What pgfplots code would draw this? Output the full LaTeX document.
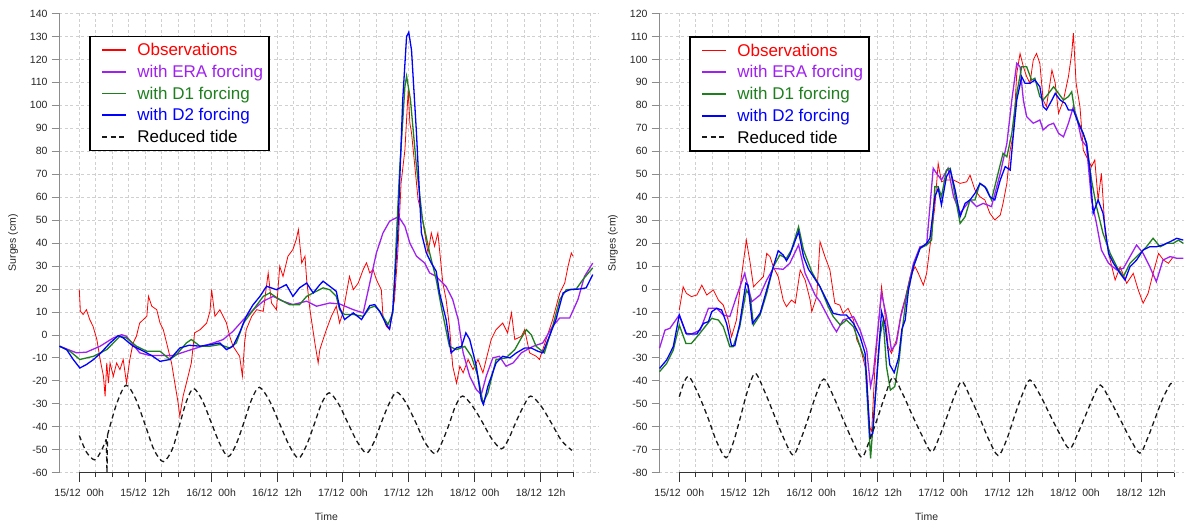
\documentclass[border=0pt]{standalone}
\usepackage{pgfplots}
\pgfplotsset{compat=1.18}
\usepackage{fontspec}
\setmainfont{Liberation Sans}
\definecolor{obsred}{HTML}{FF0000}
\definecolor{erapurple}{HTML}{A020F0}
\definecolor{dgreen}{HTML}{1F7F1F}
\definecolor{dblue}{HTML}{0000FF}
\definecolor{gridgray}{HTML}{D0D0D0}
\newcommand{\tfont}{\fontsize{10.5}{12}\selectfont}
\pgfplotsset{
  surge/.style={
    scale only axis, anchor=south west, height=459.2pt, clip=false,
    xmin=-3.64,
    axis y line*=left, axis x line*=bottom,
    x axis line style={draw=none},
    y axis line style={-, draw=black!45, line width=0.8pt},
    tick align=outside,
    xtick={0,12,...,84},
    xticklabels={15/12~~00h,15/12~~12h,16/12~~00h,16/12~~12h,17/12~~00h,17/12~~12h,18/12~~00h,18/12~~12h},
    minor xtick={3,6,...,90},
    ytick distance=10,
    xticklabel shift=8pt,
    yticklabel shift=4pt,
    xtick style={black!80, line width=0.8pt, /pgfplots/major tick length=9.5pt, /pgfplots/minor tick length=4.5pt},
    ytick style={black!45, line width=0.8pt, /pgfplots/major tick length=7.7pt},
    xmajorgrids, xminorgrids, ymajorgrids,
    major grid style={gridgray, line width=0.6pt, dash pattern=on 3pt off 2.5pt},
    minor grid style={gridgray, line width=0.6pt, dash pattern=on 3pt off 2.5pt},
    ticklabel style={font=\tfont, text=black!85},
    /pgf/number format/assume math mode=true,
    label style={font=\tfont, text=black!85},
    legend image code/.code={\path (0pt,0pt); \draw[#1, line width=1.8pt] (7.7pt,0pt) -- (31.3pt,0pt);},
    legend cell align=left,
    legend style={draw=black, line width=1.6pt, fill=white,
      inner xsep=4pt, inner ysep=7pt, row sep=8.2pt,
      font=\fontsize{17}{20}\selectfont,
      nodes={text height=12.5pt, text depth=1pt, inner xsep=2pt, inner ysep=0pt},
      /tikz/every odd column/.append style={column sep=8.7pt},
      anchor=north west},
  },
  obs/.style={obsred, line width=0.8pt},
  era/.style={erapurple, line width=1.3pt},
  dun/.style={dgreen, line width=1.3pt},
  ddeux/.style={dblue, line width=1.3pt},
  tide/.style={black!90, line width=1.3pt, dash pattern=on 5pt off 3.5pt},
}
\begin{document}
\begin{tikzpicture}
\useasboundingbox (0pt,0pt) rectangle (1184pt,526pt);
% ---------------- LEFT PANEL ----------------
\begin{axis}[surge, at={(59.3pt,53.3pt)}, width=539.7pt, xmax=94.64, ymin=-60, ymax=140,
  xlabel={Time}, ylabel={Surges (cm)},
  xlabel style={at={(axis cs:45,-79.1)}, anchor=center},
  ylabel style={at={(axis cs:-12.06,40.2)}, anchor=center, rotate=0},
  legend style={at={(axis cs:1.765,130.4)}}]
\addplot[gridgray, line width=0.6pt, dash pattern=on 3pt off 2.5pt, forget plot] coordinates {(93,-60) (93,140)};
\addplot[obs] coordinates {(0.0,19.7) (0.2,10.3) (0.7,8.9) (1.3,11) (1.9,6.7) (2.5,3.8) (3.2,-2) (3.8,-10.7) (4.4,-18) (4.7,-26.7) (5.0,-12.2) (5.3,-21) (5.6,-12.2) (6.2,-18) (6.8,-12.2) (7.4,-15.1) (8.0,-10.7) (8.6,-21) (9.2,-10.7) (9.8,-3.5) (10.4,-0.6) (11.0,5.2) (12.3,8.1) (12.6,16.8) (13.2,12.5) (14.1,11) (14.7,5.2) (15.3,2.3) (15.9,-3.5) (16.8,-12.2) (17.4,-21) (18.0,-29.6) (18.3,-35.4) (18.9,-26.7) (19.5,-21) (20.4,-12.2) (21.0,0.9) (22.0,2.3) (23.2,5.2) (23.8,10.3) (24.1,19.7) (24.7,8.1) (25.6,11) (26.2,8.1) (26.8,5.2) (27.4,-0.6) (28.0,-4.9) (29.2,-9.3) (29.7,-18) (30.1,-3.5) (30.4,2.3) (31.4,8.1) (32.3,11) (33.5,10.3) (34.4,27) (35.0,13.9) (35.9,11) (36.5,29.9) (37.1,25.5) (38.0,34.3) (38.9,37.2) (39.5,41.5) (39.9,45.9) (40.5,31.3) (41.1,34.3) (41.4,24.1) (42.0,11) (42.9,-3.5) (43.5,-12.2) (43.8,-6.4) (44.4,-2) (45.0,2.3) (45.9,8.1) (46.8,12.5) (47.4,5.2) (48.0,9.6) (49.2,25.5) (49.9,19.7) (50.8,22.6) (51.7,28.5) (52.3,31.4) (52.9,27) (53.5,28.5) (54.1,24.1) (55.0,19.7) (55.3,8.1) (55.9,3.8) (56.5,2.3) (57.4,15.4) (58.0,35.7) (58.6,66.2) (59.3,80.7) (59.9,106.9) (60.2,92.3) (60.5,88) (61.1,73.5) (61.7,58.9) (62.3,53.1) (62.9,44.4) (63.5,35.7) (64.1,44.4) (64.7,38.6) (65.3,44.4) (65.9,29.9) (66.2,22.6) (66.8,15.4) (67.4,3.8) (68.0,-13.6) (68.7,-21) (69.3,-13.6) (69.9,-16.5) (70.8,-10.7) (71.7,-15.1) (72.6,-10.7) (73.5,-16.5) (74.1,-10.7) (75.0,-2) (75.9,2.3) (77.1,5.2) (78.0,0.9) (78.7,9.6) (79.3,-2) (80.5,-0.6) (81.1,2.3) (82.0,-7.8) (83.2,-9.3) (83.8,-10.7) (85.0,-2) (86.2,6.7) (87.5,18.3) (88.4,22.6) (89.0,29.9) (89.6,35.7) (89.9,34.3)};
\addlegendentry{\textcolor{obsred}{Observations}}
\addplot[era] coordinates {(-3.6,-4.9) (-0.5,-7.8) (1.3,-7.5) (3.8,-4.9) (6.2,-1.3) (7.7,0.1) (8.6,-0.6) (11.0,-7.8) (12.9,-9) (14.7,-9) (17.1,-9) (19.5,-7.1) (22.0,-5.2) (24.4,-3.5) (26.2,-2) (28.0,1.6) (29.9,6.7) (31.7,11) (33.5,14.7) (35.3,16.8) (37.1,14.7) (38.9,13.2) (41.4,14.7) (43.2,12.5) (45.6,13.9) (47.4,13.5) (49.9,11) (51.7,9.6) (52.9,22.6) (54.1,35.7) (55.3,44.4) (56.5,49.5) (57.7,51) (58.3,51) (59.3,47.3) (60.2,40) (61.4,34.3) (62.9,31.3) (63.8,27) (65.0,25.5) (66.8,21.1) (68.0,15.4) (69.0,6.7) (69.9,-7.8) (71.1,-18) (72.3,-23.8) (73.2,-26) (74.1,-18) (75.3,-10) (76.5,-9.3) (77.7,-13.6) (79.0,-12.2) (80.5,-7.8) (82.6,-5) (84.4,-3.5) (86.2,3.8) (87.5,7.4) (89.3,7.4) (90.8,15.4) (92.0,25.5) (93.5,31.3)};
\addlegendentry{\textcolor{erapurple}{with ERA forcing}}
\addplot[dun] coordinates {(-3.6,-4.9) (-1.7,-7.1) (0.1,-10.7) (2.6,-9.3) (5.0,-6.4) (7.4,-0.6) (8.6,-1.3) (10.4,-4.9) (12.3,-7.1) (14.7,-7.1) (16.5,-10.7) (17.7,-8.6) (19.5,-3.5) (20.4,-2) (22.0,-4.9) (23.8,-4.9) (25.6,-4.2) (27.4,-5.7) (28.6,-3.5) (29.9,5.2) (31.7,11) (33.5,16.8) (34.7,18.3) (36.5,15.4) (38.3,13.2) (40.1,13.2) (41.4,16.8) (42.6,18.3) (44.4,20.5) (45.6,19.7) (46.8,16.8) (47.4,11) (48.3,8.9) (49.9,8.9) (51.7,8.1) (52.9,11.8) (53.8,12.5) (54.7,10.3) (56.2,4.5) (57.1,9.6) (58.3,70.5) (59.3,108.3) (59.6,112.7) (60.3,102.5) (61.4,73.4) (62.5,50.2) (63.8,35.7) (65.0,24.1) (65.9,12.5) (67.4,-5) (68.7,-6.4) (70.2,-5) (71.4,-9.3) (72.6,-18) (73.5,-29.6) (74.4,-25.3) (75.9,-10.7) (77.7,-10) (79.3,-6.4) (80.5,-1.3) (81.4,2.3) (82.3,0.1) (83.2,-5) (84.7,-7.8) (86.2,3.8) (87.5,15.4) (88.7,19.7) (90.5,20) (91.7,24.1) (93.5,29.2)};
\addlegendentry{\textcolor{dgreen}{with D1 forcing}}
\addplot[ddeux] coordinates {(-3.6,-4.9) (-2.3,-6.4) (-1.1,-10.7) (0.1,-14.4) (1.3,-12.9) (2.6,-10.7) (3.8,-8.1) (5.6,-3.5) (7.1,-0.3) (8.0,-1.3) (9.8,-4.9) (11.7,-7.1) (13.2,-9) (14.7,-11.5) (16.5,-10.7) (18.3,-5.7) (20.0,-4.5) (22.0,-4.9) (24.0,-4.2) (25.6,-3.5) (26.8,-6.4) (28.0,-4.9) (29.2,1) (30.4,8.1) (31.6,13) (32.9,16.8) (34.1,21.2) (35.9,19.7) (37.7,21.9) (38.9,16.8) (40.1,20.5) (41.4,22.6) (42.6,18.3) (43.8,21.9) (44.4,23.4) (45.6,21.2) (46.8,19) (47.4,12) (48.3,6.7) (49.9,9.6) (51.4,6.7) (52.9,12.8) (53.8,13.2) (54.7,10.3) (55.9,4.5) (56.5,2.6) (57.1,11) (58.0,44.4) (58.9,102.5) (59.6,130) (60.0,131.8) (60.5,124) (61.4,88) (62.3,44.4) (63.2,35.7) (64.1,31.3) (65.0,27.7) (65.6,18.3) (66.8,6.7) (67.7,-7.8) (68.7,-5.6) (69.6,-5) (70.4,0.9) (71.1,-2) (72.3,-13.6) (73.2,-28.2) (73.6,-30.3) (74.4,-22.4) (75.9,-12.2) (77.1,-9.3) (78.4,-10) (79.6,-7.8) (81.1,-5.7) (82.3,-5.7) (83.5,-7.1) (84.4,-7.8) (85.6,-0.6) (86.8,6.7) (88.1,18.3) (89.3,19.7) (91.1,20) (92.3,20.5) (93.5,26.3)};
\addlegendentry{\textcolor{dblue}{with D2 forcing}}
\addplot[tide, smooth] coordinates {(5.15,-43.5) (6.8,-30) (8.5,-21.9) (10.2,-27.5) (11.9,-38.5) (13.6,-50) (15.3,-55.2) (16.9,-50) (18.1,-40.5) (19.5,-29) (20.8,-23.3) (22.4,-28.5) (24.0,-38) (25.6,-47.5) (27.1,-53) (28.5,-48) (30.0,-38) (31.4,-28) (32.8,-22.8) (34.6,-28.5) (36.4,-38.2) (38.2,-48) (39.9,-53.7) (41.3,-48.5) (42.7,-39.5) (44.1,-30) (45.5,-25.2) (47.2,-30) (48.9,-38.3) (50.6,-46.5) (52.3,-51.5) (53.7,-46.5) (55.0,-38.2) (56.4,-30) (57.8,-24.9) (59.5,-29.6) (61.3,-38.3) (63.0,-47) (64.8,-51.8) (66.0,-47) (67.3,-39.2) (68.5,-31) (69.8,-26.6) (71.6,-31) (73.4,-38) (75.1,-45.2) (76.9,-49.6) (78.2,-45.2) (79.5,-38) (80.9,-31) (82.2,-26.6) (84.1,-31) (86.0,-38.5) (87.8,-46) (89.7,-50.3)};
\addlegendentry{Reduced tide}
\addplot[tide, smooth, forget plot] coordinates {(0,-43.8) (1.3,-51) (2.8,-54.4) (4.0,-50.5) (4.9,-45.5)};
\addplot[tide, forget plot] coordinates {(4.9,-45.5) (5.05,-60) (5.15,-43.5)};
\addplot[black!80, line width=0.9pt, forget plot] coordinates {(0,-60) (90,-60)};
\end{axis}
% ---------------- RIGHT PANEL ----------------
\begin{axis}[surge, at={(659.3pt,53.3pt)}, width=524.7pt, xmax=91.83, ymin=-80, ymax=120,
  xlabel={Time}, ylabel={Surges (cm)},
  xlabel style={at={(axis cs:45,-99.3)}, anchor=center},
  ylabel style={at={(axis cs:-12.06,20.0)}, anchor=center, rotate=0},
  legend style={at={(axis cs:1.765,110.2)}}]
\addplot[obs] coordinates {(0.0,-9.1) (0.7,1) (1.3,-1.9) (2.2,-3.3) (3.2,-2.6) (4.1,1.7) (5.0,-2.6) (6.2,-0.4) (7.1,-4.8) (8.0,-7) (8.9,-13.5) (9.5,-20.8) (10.4,-13.5) (11.3,5.4) (12.2,21.3) (12.9,11.2) (13.5,1) (14.4,3.2) (15.3,5.4) (15.9,15.5) (16.5,14.1) (17.1,9.7) (18.0,5.4) (18.9,-4.8) (19.5,-7.7) (20.4,-4.8) (21.1,-6.2) (22.0,8.3) (22.9,3.9) (23.8,-4.8) (24.1,-9.9) (25.0,-3.3) (25.6,20.6) (26.5,14.1) (27.4,8.3) (28.3,-6.2) (29.2,-7) (29.8,-10.6) (30.7,-8.4) (31.7,-13.5) (32.3,-22.2) (32.9,-25.1) (33.5,-30.9) (34.1,-36.7) (34.6,-60) (35.0,-62) (35.6,-33.8) (36.8,1) (37.4,-10.6) (38.0,-25.1) (38.6,-28) (39.5,-22.2) (40.4,-10) (41.1,-4) (42.0,5.4) (42.9,9.7) (43.5,6.8) (44.4,1.7) (45.0,6.8) (45.9,24.2) (46.5,35.9) (47.1,54.7) (47.7,46.7) (48.6,47.5) (49.9,47.5) (51.1,46) (52.3,46.7) (52.9,49.6) (53.8,43.1) (54.7,40.2) (55.6,38.8) (56.5,33) (57.4,30.1) (58.4,32.2) (58.9,37.3) (59.6,46) (60.2,60.5) (60.8,67.8) (61.4,93.9) (62.0,102.6) (62.6,96.8) (63.2,92.5) (63.8,89.6) (64.4,99.7) (65.0,102.6) (65.6,98.3) (66.2,82.3) (66.8,79.4) (67.8,95.4) (68.4,89.6) (69.0,76.5) (69.9,82.3) (70.8,92.5) (71.4,102.6) (71.7,111.4) (72.2,89.6) (72.9,79.4) (73.5,60.5) (74.1,57.6) (75.0,53.3) (75.6,56.2) (76.2,38.8) (76.8,50.4) (77.5,24.2) (78.4,12.6) (79.3,3.9) (80.2,9.7) (81.4,2.5) (82.6,6.8) (83.5,-0.4) (84.4,-6.2) (85.3,-1.9) (86.2,6.8) (87.2,15.5) (88.1,12.6) (89.0,11.2) (89.9,14.1)};
\addlegendentry{\textcolor{obsred}{Observations}}
\addplot[era] coordinates {(-3.6,-25.8) (-2.6,-17.9) (-1.7,-17.1) (0.0,-11.3) (1.2,-19.3) (2.2,-19.6) (3.8,-17.9) (5.3,-8.4) (6.8,-8.4) (8.0,-11.3) (9.2,-12) (10.4,-3.3) (11.9,6.8) (13.2,-5.5) (14.7,-2.6) (15.9,3.9) (17.1,9) (18.9,8.6) (20.1,11.2) (21.7,19.2) (22.9,6.8) (24.7,-2.6) (25.6,-5.5) (28.0,-16.4) (28.6,-18.6) (29.8,-13.5) (31.7,-12) (32.9,-17.9) (34.1,-26.6) (34.8,-42.5) (35.3,-36.7) (36.8,-1.9) (37.7,-12) (38.6,-26.6) (39.5,-23.7) (40.3,-12) (41.4,-1.9) (42.6,11.2) (43.8,18.4) (45.0,19.2) (46.2,52.6) (46.8,50.4) (47.7,47.5) (48.9,52.6) (49.9,40.2) (51.1,33) (52.0,35.9) (52.9,38.8) (54.1,35.9) (55.3,37.3) (56.8,35.9) (58.4,50.4) (59.6,63.4) (60.5,82.3) (61.4,98.3) (62.0,96.8) (62.6,82.3) (63.2,75.1) (64.4,72.2) (65.6,73.6) (66.2,69.3) (67.2,71.4) (68.1,72.2) (69.0,67.8) (69.9,66.3) (70.8,72.2) (71.7,79.4) (72.3,75.1) (73.2,64.9) (74.1,62) (75.0,38.8) (75.9,28.6) (76.8,17) (78.1,11.2) (79.6,8.3) (80.8,9) (82.0,14.1) (83.2,19.2) (84.4,15.5) (85.6,9.7) (86.8,3.2) (88.0,12.6) (89.3,14.1) (90.5,13.4) (91.7,13.4)};
\addlegendentry{\textcolor{erapurple}{with ERA forcing}}
\addplot[dun] coordinates {(-3.6,-36) (-2.3,-32.4) (-1.1,-26.6) (0.0,-15.7) (1.2,-23.7) (2.2,-23.7) (3.5,-20) (4.7,-16.4) (5.9,-12.8) (7.1,-13.5) (8.0,-16.4) (9.2,-25.1) (9.8,-25.1) (11.0,-16.4) (12.2,-0.4) (12.9,-3.3) (13.5,-15.7) (14.7,-11.3) (15.9,-1.9) (17.1,9.7) (18.3,14.8) (19.5,13.4) (20.4,17) (21.7,27.1) (22.6,17) (24.1,7.5) (25.6,1) (27.1,-7.7) (28.0,-12) (29.3,-15.7) (30.4,-13.5) (31.7,-16.4) (32.9,-25.1) (33.8,-30.9) (34.8,-73.8) (35.4,-54.2) (36.5,-20.8) (37.1,-13.5) (37.7,-33.8) (38.4,-44) (39.2,-42.5) (40.0,-31) (40.6,-17) (41.4,-1.9) (42.6,9.7) (43.8,17.7) (45.0,19.2) (45.9,21.3) (46.5,44.6) (47.1,44.6) (47.7,40.2) (48.6,51.8) (49.3,52.6) (50.2,40.2) (51.1,28.6) (52.0,31.5) (52.9,38.8) (53.8,38.8) (54.7,46) (55.9,43.8) (56.8,38.8) (58.0,50.4) (58.9,59.1) (59.6,57.6) (60.5,67.8) (61.4,85.2) (62.3,96.8) (63.2,96.8) (64.1,91) (64.7,91.8) (65.6,83.8) (66.2,82.3) (67.2,85.2) (68.1,88.1) (69.0,85.2) (69.9,82.3) (70.8,83.8) (71.4,85.9) (72.0,76.5) (73.2,69.3) (74.1,63.4) (75.0,47.5) (75.9,35.9) (77.1,24.2) (78.4,15.5) (79.6,9.7) (80.8,5.4) (82.0,11.2) (83.2,14.1) (85.0,18.4) (86.2,22.1) (87.5,18.4) (88.7,19.9) (89.9,19.9) (90.8,21.3) (91.7,19.9)};
\addlegendentry{\textcolor{dgreen}{with D1 forcing}}
\addplot[ddeux] coordinates {(-3.6,-34.6) (-2.3,-30.9) (-1.1,-25.1) (0.0,-11.3) (1.3,-19.6) (3.2,-19.6) (4.4,-15) (5.3,-14.2) (5.9,-9.9) (6.8,-8.4) (7.7,-9.1) (8.6,-15) (9.5,-24.7) (10.1,-24.7) (11.0,-15) (12.1,2.5) (12.5,1.7) (13.3,-15) (14.7,-10.6) (15.9,-0.4) (17.1,9.7) (18.0,16.7) (18.9,14.8) (19.5,12.3) (20.1,14.8) (21.7,25) (22.6,14.1) (23.5,8.6) (24.4,5.4) (25.6,1) (26.8,-4.8) (28.0,-10.6) (29.3,-11.3) (30.4,-11.3) (31.7,-15) (32.9,-20.8) (33.8,-28) (34.7,-64.3) (35.2,-62.9) (35.9,-39.6) (36.8,-9.9) (37.4,-15) (38.3,-33) (39.1,-36.4) (39.9,-30) (40.5,-17.5) (41.1,-13.5) (41.7,-0.4) (42.6,9.7) (43.8,17.7) (45.0,19.9) (45.6,22.1) (46.5,40.2) (47.1,43.8) (47.7,36.6) (48.6,48.9) (49.3,51.8) (50.2,43.1) (51.1,31.5) (52.0,37.3) (52.9,38.8) (53.8,41.7) (54.7,46) (55.6,44.6) (56.5,40.2) (57.4,38.8) (58.4,47.5) (59.3,53.3) (60.2,51.8) (60.8,67.8) (61.4,82.3) (62.3,92.5) (62.9,89.6) (63.8,89.6) (64.7,91) (65.6,88.1) (66.2,79.4) (66.8,78) (67.8,82.3) (68.4,85.2) (69.3,82.3) (70.2,80.9) (70.8,78) (71.7,78) (72.6,72.2) (73.5,67.8) (74.1,63.4) (74.7,52) (75.3,33) (76.2,38.8) (77.1,33) (78.1,15.5) (79.0,11.2) (80.2,6.8) (81.1,3.9) (82.0,9.7) (83.2,12.6) (84.4,17) (85.6,18.4) (86.8,18.4) (88.0,19.2) (89.3,20.6) (90.5,22.1) (91.7,21.3)};
\addlegendentry{\textcolor{dblue}{with D2 forcing}}
\addplot[tide, smooth] coordinates {(0,-46.9) (0.9,-40.5) (1.8,-38.2) (3.5,-46) (5.2,-56) (6.8,-66.5) (8.5,-73.5) (9.8,-67) (11.1,-56) (12.4,-44.5) (13.8,-36.7) (15.5,-44.5) (17.2,-54.5) (19.0,-65) (20.7,-72.3) (22.1,-65.5) (23.5,-56) (24.9,-46) (26.3,-39.2) (28.0,-46.5) (29.7,-56.2) (31.5,-66) (33.2,-73.3) (34.6,-66) (36.1,-56) (37.5,-46) (38.9,-38.5) (40.7,-46) (42.4,-55) (44.2,-64) (45.9,-71) (47.3,-64.5) (48.7,-55.6) (50.0,-47) (51.4,-40.3) (53.0,-47.5) (54.7,-56.4) (56.3,-65.5) (58.0,-72.5) (59.5,-66) (60.9,-56) (62.4,-46) (63.8,-39.6) (65.6,-46) (67.4,-54.6) (69.2,-63) (71.0,-69.6) (72.4,-63.5) (73.8,-55.7) (75.2,-47.8) (76.6,-41.8) (78.4,-48.5) (80.2,-56.7) (82.0,-65) (83.8,-71.5) (85.2,-65) (86.6,-56.2) (88.0,-47.5) (89.4,-41.2) (89.9,-41.5)};
\addlegendentry{Reduced tide}
\addplot[black!80, line width=0.9pt, forget plot] coordinates {(0,-80) (90,-80)};
\end{axis}
\end{tikzpicture}
\end{document}
